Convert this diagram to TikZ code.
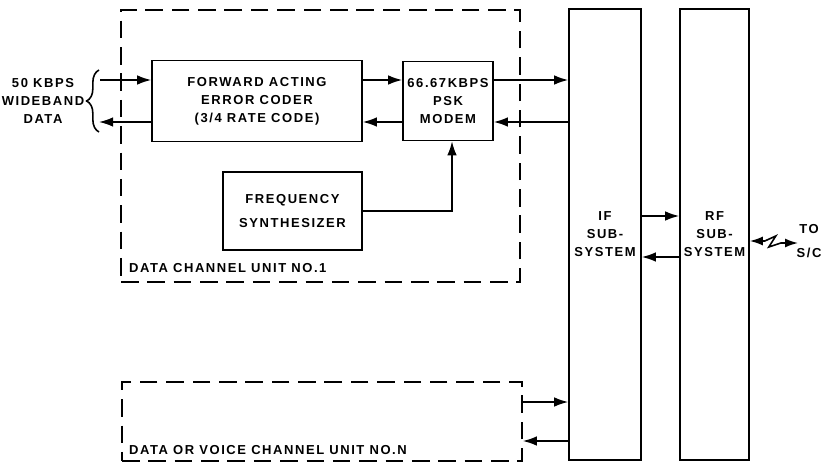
\documentclass[tikz,border=0pt]{standalone}
\usepackage{fontspec}
\newfontfamily\lettering[LetterSpace=12]{Liberation Sans}
\usetikzlibrary{arrows.meta,positioning,calc,decorations.pathreplacing}
\tikzset{
  blk/box/.style={
    draw=black,
    line width=0.9pt,
    fill=white,
    align=center,
    inner sep=2pt,
    font=\lettering\bfseries\fontsize{7.4}{10.2}\selectfont
  },
  blk/unit/.style={
    draw=black,
    line width=0.9pt,
    dash pattern=on 10pt off 5pt
  },
  blk/text/.style={align=center, inner sep=1pt, font=\lettering\bfseries\fontsize{7.4}{10.2}\selectfont},
  blk/arrow/.style={-{Latex[length=2.8mm,width=1.9mm]}, line width=0.9pt},
  blk/biarrow/.style={{Latex[length=2.6mm,width=1.8mm]}-{Latex[length=2.6mm,width=1.8mm]}, line width=0.9pt}
}
\begin{document}
\begin{tikzpicture}[x=1cm,y=1cm]
  \useasboundingbox (0,0) rectangle (16.46,9.26);
  % channel units
  \node[blk/unit,minimum width=7.98cm,minimum height=5.44cm] (chan1) at (6.41,6.34) {};
  \node[blk/unit,minimum width=8.0cm,minimum height=1.58cm] (chann) at (6.44,0.83) {};
  \node[blk/text,anchor=west] (chan1lbl) at (2.54,3.90) {DATA CHANNEL UNIT NO.1};
  \node[blk/text,anchor=west] (channlbl) at (2.54,0.26) {DATA OR VOICE CHANNEL UNIT NO.N};
  % blocks
  \node[blk/box,minimum width=4.2cm,minimum height=1.62cm] (coder) at (5.14,7.24) {FORWARD ACTING\\ERROR CODER\\(3/4 RATE CODE)};
  \node[blk/box,minimum width=1.8cm,minimum height=1.58cm] (modem) at (8.96,7.24) {66.67KBPS\\PSK\\MODEM};
  \node[blk/box,minimum width=2.78cm,minimum height=1.56cm] (synth) at (5.85,5.04) {FREQUENCY\\[3pt]SYNTHESIZER};
  \node[blk/box,minimum width=1.44cm,minimum height=9.02cm] (ifsub) at (12.10,4.57) {IF\\SUB-\\SYSTEM};
  \node[blk/box,minimum width=1.38cm,minimum height=9.02cm] (rfsub) at (14.29,4.57) {RF\\SUB-\\SYSTEM};
  % data in and out
  \node[blk/text] (src) at (0.86,7.24) {50 KBPS\\WIDEBAND\\DATA};
  \coordinate (bracetip) at (1.72,7.24);
  \coordinate (datain) at (2.0,7.66);
  \coordinate (dataout) at (1.98,6.82);
  \draw[line width=0.9pt,decorate,decoration={brace,amplitude=7pt}] (1.98,6.62) -- (1.98,7.86);
  \draw[line width=0.9pt] (src.east) -- (bracetip);
  \draw[blk/arrow] (datain) -- (coder.west |- datain);
  \draw[blk/arrow] (coder.west |- dataout) -- (dataout);
  \draw[blk/arrow] ([yshift=4.2mm]coder.east) -- ([yshift=4.2mm]coder.east -| modem.west);
  \draw[blk/arrow] ([yshift=-4.2mm]modem.west) -- ([yshift=-4.2mm]modem.west -| coder.east);
  \draw[blk/arrow] ([yshift=4.2mm]modem.east) -- ([yshift=4.2mm]modem.east -| ifsub.west);
  \draw[blk/arrow] ([yshift=-4.2mm]modem.east -| ifsub.west) -- ([yshift=-4.2mm]modem.east);
  \draw[blk/arrow] (synth.east) -| ([xshift=0.8mm]modem.south);
  % IF / RF
  \draw[blk/arrow] ([yshift=3.7mm]ifsub.east) -- ([yshift=3.7mm]ifsub.east -| rfsub.west);
  \draw[blk/arrow] ([yshift=-4.5mm]rfsub.west) -- ([yshift=-4.5mm]rfsub.west -| ifsub.east);
  \draw[blk/arrow] ([yshift=3.9mm]chann.east) -- ([yshift=3.9mm]chann.east -| ifsub.west);
  \draw[blk/arrow] ([yshift=-3.9mm]chann.east -| ifsub.west) -- ([yshift=-3.9mm]chann.east);
  % link to spacecraft
  \node[blk/text] (tosc) at (16.18,4.44) {TO\\[3pt]S/C};
  \coordinate (sc) at (15.96,4.40);
  \draw[blk/biarrow] ([yshift=-1.3mm]rfsub.east) -- ++(0.3,0) -- ++(0.22,0.1) -- ++(-0.14,-0.22) -- ++(0.24,0.08) -- (sc);
\end{tikzpicture}
\end{document}
